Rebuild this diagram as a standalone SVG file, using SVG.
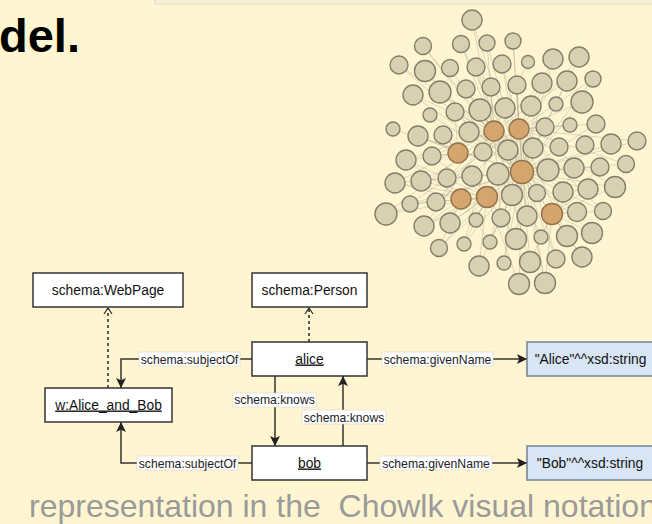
<svg xmlns="http://www.w3.org/2000/svg" width="652" height="524" viewBox="0 0 652 524">
<defs>
<style>
.nd{fill:#d9d0b1;stroke:#847e6c;stroke-width:1.4}
.hub{fill:#d4a56d;stroke:#91724c;stroke-width:1.4}
.net line{stroke:#9d9884;stroke-width:0.6;stroke-opacity:0.55}
.box{fill:#ffffff;stroke:#333333;stroke-width:1.5}
.lit{fill:#d8e5f5;stroke:#6f8096;stroke-width:1.5}
.t{font-family:"Liberation Sans",Arial,sans-serif;font-size:13.8px;fill:#111111;text-anchor:middle}
.u{text-decoration:underline}
.lb{fill:#ffffff;stroke:#d6d6d6;stroke-width:0.6}
.lt{font-family:"Liberation Sans",Arial,sans-serif;font-size:12.2px;fill:#222222;text-anchor:middle}
.c{fill:none;stroke:#333333;stroke-width:1.5}
.d{fill:none;stroke:#333333;stroke-width:1.6;stroke-dasharray:3 3}
</style>
<marker id="fa" viewBox="0 0 10 10" markerUnits="userSpaceOnUse" markerWidth="10" markerHeight="10" refX="10" refY="5" orient="auto">
<path d="M0,0 L10,5 L0,10 L2.2,5 z" fill="#222222"/>
</marker>
<marker id="oa" viewBox="-1 -1 9 10" markerUnits="userSpaceOnUse" markerWidth="9" markerHeight="10" refX="6" refY="4" orient="auto">
<path d="M0,0 L6,4 L0,8" fill="none" stroke="#333333" stroke-width="1.3"/>
</marker>
</defs>
<rect width="652" height="524" fill="#fff5d1"/>
<rect x="155" y="-2" width="500" height="6" fill="#f8f0d6" stroke="#e2dbc3" stroke-width="1"/>
<text x="-1" y="52" font-family="'Liberation Sans',Arial,sans-serif" font-size="47" font-weight="bold" fill="#000000">del.</text>

<g id="network" class="net">
<g id="network-edges">
<line x1="522" y1="172" x2="472" y2="20"/><line x1="522" y1="172" x2="423" y2="46"/><line x1="522" y1="172" x2="461" y2="44"/><line x1="522" y1="172" x2="487" y2="43"/><line x1="522" y1="172" x2="513" y2="41"/><line x1="522" y1="172" x2="399" y2="65"/><line x1="522" y1="172" x2="425" y2="71"/><line x1="522" y1="172" x2="476" y2="67"/><line x1="522" y1="172" x2="502" y2="64"/><line x1="522" y1="172" x2="553" y2="59"/><line x1="522" y1="172" x2="579" y2="57"/><line x1="522" y1="172" x2="413" y2="95"/><line x1="522" y1="172" x2="440" y2="92"/><line x1="522" y1="172" x2="466" y2="89"/><line x1="522" y1="172" x2="517" y2="85"/><line x1="522" y1="172" x2="542" y2="83"/><line x1="522" y1="172" x2="567" y2="81"/><line x1="522" y1="172" x2="593" y2="79"/><line x1="522" y1="172" x2="430" y2="115"/><line x1="522" y1="172" x2="455" y2="112"/><line x1="522" y1="172" x2="582" y2="102"/><line x1="522" y1="172" x2="393" y2="129"/><line x1="522" y1="172" x2="418" y2="136"/><line x1="522" y1="172" x2="596" y2="124"/><line x1="522" y1="172" x2="637" y2="141"/><line x1="522" y1="172" x2="611" y2="144"/><line x1="522" y1="172" x2="626" y2="164"/><line x1="522" y1="172" x2="600" y2="167"/><line x1="522" y1="172" x2="395" y2="183"/><line x1="522" y1="172" x2="421" y2="181"/><line x1="522" y1="172" x2="386" y2="214"/><line x1="522" y1="172" x2="410" y2="204"/><line x1="522" y1="172" x2="615" y2="187"/><line x1="522" y1="172" x2="588" y2="189"/><line x1="522" y1="172" x2="424" y2="226"/><line x1="522" y1="172" x2="450" y2="223"/><line x1="522" y1="172" x2="603" y2="211"/><line x1="522" y1="172" x2="577" y2="212"/><line x1="522" y1="172" x2="439" y2="248"/><line x1="522" y1="172" x2="464" y2="244"/><line x1="522" y1="172" x2="490" y2="242"/><line x1="522" y1="172" x2="516" y2="239"/><line x1="522" y1="172" x2="567" y2="236"/><line x1="522" y1="172" x2="592" y2="233"/><line x1="522" y1="172" x2="479" y2="266"/><line x1="522" y1="172" x2="504" y2="263"/><line x1="522" y1="172" x2="530" y2="262"/><line x1="522" y1="172" x2="556" y2="259"/><line x1="522" y1="172" x2="582" y2="257"/><line x1="522" y1="172" x2="519" y2="284"/><line x1="522" y1="172" x2="545" y2="283"/>
<line x1="494" y1="131" x2="472" y2="20"/><line x1="494" y1="131" x2="423" y2="46"/><line x1="494" y1="131" x2="461" y2="44"/><line x1="494" y1="131" x2="487" y2="43"/><line x1="494" y1="131" x2="450" y2="68"/><line x1="494" y1="131" x2="476" y2="67"/><line x1="494" y1="131" x2="528" y2="62"/><line x1="494" y1="131" x2="466" y2="89"/><line x1="494" y1="131" x2="491" y2="87"/><line x1="494" y1="131" x2="399" y2="65"/><line x1="494" y1="131" x2="413" y2="95"/><line x1="494" y1="131" x2="440" y2="92"/><line x1="494" y1="131" x2="542" y2="83"/><line x1="494" y1="131" x2="567" y2="81"/><line x1="494" y1="131" x2="406" y2="160"/><line x1="494" y1="131" x2="432" y2="156"/><line x1="494" y1="131" x2="395" y2="183"/><line x1="494" y1="131" x2="447" y2="178"/><line x1="494" y1="131" x2="386" y2="214"/><line x1="494" y1="131" x2="436" y2="202"/><line x1="494" y1="131" x2="563" y2="192"/><line x1="494" y1="131" x2="424" y2="226"/><line x1="494" y1="131" x2="501" y2="218"/><line x1="494" y1="131" x2="541" y2="237"/><line x1="494" y1="131" x2="464" y2="244"/><line x1="494" y1="131" x2="530" y2="262"/>
<line x1="519" y1="129" x2="513" y2="41"/><line x1="519" y1="129" x2="502" y2="64"/><line x1="519" y1="129" x2="553" y2="59"/><line x1="519" y1="129" x2="579" y2="57"/><line x1="519" y1="129" x2="517" y2="85"/><line x1="519" y1="129" x2="593" y2="79"/><line x1="519" y1="129" x2="582" y2="102"/><line x1="519" y1="129" x2="570" y2="125"/><line x1="519" y1="129" x2="596" y2="124"/><line x1="519" y1="129" x2="637" y2="141"/><line x1="519" y1="129" x2="626" y2="164"/><line x1="519" y1="129" x2="615" y2="187"/><line x1="519" y1="129" x2="472" y2="176"/><line x1="519" y1="129" x2="421" y2="181"/><line x1="519" y1="129" x2="410" y2="204"/><line x1="519" y1="129" x2="588" y2="189"/><line x1="519" y1="129" x2="476" y2="220"/><line x1="519" y1="129" x2="527" y2="216"/><line x1="519" y1="129" x2="603" y2="211"/><line x1="519" y1="129" x2="490" y2="242"/><line x1="519" y1="129" x2="567" y2="236"/><line x1="519" y1="129" x2="504" y2="263"/><line x1="519" y1="129" x2="556" y2="259"/><line x1="519" y1="129" x2="545" y2="283"/>
<line x1="487" y1="197" x2="406" y2="160"/><line x1="487" y1="197" x2="432" y2="156"/><line x1="487" y1="197" x2="421" y2="181"/><line x1="487" y1="197" x2="395" y2="183"/><line x1="487" y1="197" x2="386" y2="214"/><line x1="487" y1="197" x2="410" y2="204"/><line x1="487" y1="197" x2="424" y2="226"/><line x1="487" y1="197" x2="450" y2="223"/><line x1="487" y1="197" x2="439" y2="248"/><line x1="487" y1="197" x2="464" y2="244"/><line x1="487" y1="197" x2="479" y2="266"/><line x1="487" y1="197" x2="519" y2="284"/><line x1="487" y1="197" x2="516" y2="239"/>
<line x1="461" y1="199" x2="406" y2="160"/><line x1="461" y1="199" x2="395" y2="183"/><line x1="461" y1="199" x2="436" y2="202"/><line x1="461" y1="199" x2="424" y2="226"/><line x1="461" y1="199" x2="439" y2="248"/><line x1="461" y1="199" x2="490" y2="242"/>
<line x1="552" y1="214" x2="574" y2="168"/><line x1="552" y1="214" x2="600" y2="167"/><line x1="552" y1="214" x2="588" y2="189"/><line x1="552" y1="214" x2="615" y2="187"/><line x1="552" y1="214" x2="603" y2="211"/><line x1="552" y1="214" x2="577" y2="212"/><line x1="552" y1="214" x2="592" y2="233"/><line x1="552" y1="214" x2="582" y2="257"/><line x1="552" y1="214" x2="530" y2="262"/><line x1="552" y1="214" x2="545" y2="283"/>
<line x1="458" y1="153" x2="430" y2="115"/><line x1="458" y1="153" x2="455" y2="112"/><line x1="458" y1="153" x2="418" y2="136"/><line x1="458" y1="153" x2="443" y2="135"/><line x1="458" y1="153" x2="432" y2="156"/><line x1="458" y1="153" x2="406" y2="160"/>
</g>
<g id="network-nodes">
<circle class="nd" cx="472" cy="20" r="10"/>
<circle class="nd" cx="423" cy="46" r="8.5"/><circle class="nd" cx="461" cy="44" r="8.5"/><circle class="nd" cx="487" cy="43" r="8"/><circle class="nd" cx="513" cy="41" r="8"/>
<circle class="nd" cx="399" cy="65" r="9"/><circle class="nd" cx="425" cy="71" r="10.5"/><circle class="nd" cx="450" cy="68" r="8.5"/><circle class="nd" cx="476" cy="67" r="9"/><circle class="nd" cx="502" cy="64" r="9"/><circle class="nd" cx="528" cy="62" r="6.5"/><circle class="nd" cx="553" cy="59" r="10"/><circle class="nd" cx="579" cy="57" r="10"/>
<circle class="nd" cx="413" cy="95" r="10"/><circle class="nd" cx="440" cy="92" r="11"/><circle class="nd" cx="466" cy="89" r="9"/><circle class="nd" cx="491" cy="87" r="9"/><circle class="nd" cx="517" cy="85" r="9"/><circle class="nd" cx="542" cy="83" r="10"/><circle class="nd" cx="567" cy="81" r="10"/><circle class="nd" cx="593" cy="79" r="8"/>
<circle class="nd" cx="430" cy="115" r="7"/><circle class="nd" cx="455" cy="112" r="9"/><circle class="nd" cx="480" cy="110" r="11"/><circle class="nd" cx="505" cy="108" r="10"/><circle class="nd" cx="531" cy="106" r="10"/><circle class="nd" cx="556" cy="104" r="7"/><circle class="nd" cx="582" cy="102" r="11"/>
<circle class="nd" cx="393" cy="129" r="7"/><circle class="nd" cx="418" cy="136" r="10"/><circle class="nd" cx="443" cy="135" r="9"/><circle class="nd" cx="469" cy="132" r="10"/><circle class="hub" cx="494" cy="131" r="10"/><circle class="hub" cx="519" cy="129" r="10"/><circle class="nd" cx="545" cy="127" r="9"/><circle class="nd" cx="570" cy="125" r="7"/><circle class="nd" cx="596" cy="124" r="9"/>
<circle class="nd" cx="406" cy="160" r="10"/><circle class="nd" cx="432" cy="156" r="9"/><circle class="hub" cx="458" cy="153" r="10"/><circle class="nd" cx="483" cy="152" r="9"/><circle class="nd" cx="508" cy="150" r="10"/><circle class="nd" cx="533" cy="148" r="10"/><circle class="nd" cx="559" cy="147" r="9"/><circle class="nd" cx="585" cy="145" r="9"/><circle class="nd" cx="611" cy="144" r="10"/><circle class="nd" cx="637" cy="141" r="9"/>
<circle class="nd" cx="395" cy="183" r="10"/><circle class="nd" cx="421" cy="181" r="10"/><circle class="nd" cx="447" cy="178" r="9"/><circle class="nd" cx="472" cy="176" r="10"/><circle class="nd" cx="498" cy="174" r="11"/><circle class="hub" cx="522" cy="172" r="11.5"/><circle class="nd" cx="548" cy="170" r="11"/><circle class="nd" cx="574" cy="168" r="10"/><circle class="nd" cx="600" cy="167" r="9"/><circle class="nd" cx="626" cy="164" r="8.5"/>
<circle class="nd" cx="386" cy="214" r="11"/><circle class="nd" cx="410" cy="204" r="8"/><circle class="nd" cx="436" cy="202" r="9"/><circle class="hub" cx="461" cy="199" r="10"/><circle class="hub" cx="487" cy="197" r="10.5"/><circle class="nd" cx="512" cy="195" r="10.5"/><circle class="nd" cx="537" cy="193" r="8.5"/><circle class="nd" cx="563" cy="192" r="10"/><circle class="nd" cx="588" cy="189" r="10"/><circle class="nd" cx="615" cy="187" r="10.5"/>
<circle class="nd" cx="424" cy="226" r="10"/><circle class="nd" cx="450" cy="223" r="10"/><circle class="nd" cx="476" cy="220" r="7"/><circle class="nd" cx="501" cy="218" r="9"/><circle class="nd" cx="527" cy="216" r="10"/><circle class="hub" cx="552" cy="214" r="10.5"/><circle class="nd" cx="577" cy="212" r="9.5"/><circle class="nd" cx="603" cy="211" r="8.5"/>
<circle class="nd" cx="439" cy="248" r="8.5"/><circle class="nd" cx="464" cy="244" r="7"/><circle class="nd" cx="490" cy="242" r="7"/><circle class="nd" cx="516" cy="239" r="10.5"/><circle class="nd" cx="541" cy="237" r="7"/><circle class="nd" cx="567" cy="236" r="10.5"/><circle class="nd" cx="592" cy="233" r="10.5"/>
<circle class="nd" cx="479" cy="266" r="10"/><circle class="nd" cx="504" cy="263" r="7"/><circle class="nd" cx="530" cy="262" r="10.5"/><circle class="nd" cx="556" cy="259" r="9"/><circle class="nd" cx="582" cy="257" r="10"/>
<circle class="nd" cx="519" cy="284" r="10.5"/><circle class="nd" cx="545" cy="283" r="10.5"/>
</g>
</g>

<g id="connectors">
<path class="d" d="M108,388 V308" marker-end="url(#oa)"/>
<path class="d" d="M309,342 V308" marker-end="url(#oa)"/>
<path class="c" d="M252,359 H121 V388" marker-end="url(#fa)"/>
<path class="c" d="M252,463 H121 V422" marker-end="url(#fa)"/>
<path class="c" d="M275,376 V446" marker-end="url(#fa)"/>
<path class="c" d="M343,446 V376" marker-end="url(#fa)"/>
<path class="c" d="M367,359 H527" marker-end="url(#fa)"/>
<path class="c" d="M367,463 H527" marker-end="url(#fa)"/>
<g id="labels">
<rect class="lb" x="139" y="352" width="101" height="14"/><text class="lt" x="189.5" y="363.5">schema:subjectOf</text>
<rect class="lb" x="137" y="456" width="101" height="14"/><text class="lt" x="187.5" y="467.5">schema:subjectOf</text>
<rect class="lb" x="233" y="393" width="83" height="14"/><text class="lt" x="274.5" y="404">schema:knows</text>
<rect class="lb" x="302" y="410" width="84" height="14"/><text class="lt" x="344" y="421.5">schema:knows</text>
<rect class="lb" x="382" y="352" width="111" height="14"/><text class="lt" x="437.5" y="363.5">schema:givenName</text>
<rect class="lb" x="380" y="456" width="112" height="14"/><text class="lt" x="436" y="467.5">schema:givenName</text>
</g>
</g>

<g id="node-webpage"><rect class="box" x="33" y="273" width="150" height="34"/><text class="t" x="108" y="294.5">schema:WebPage</text></g>
<g id="node-person"><rect class="box" x="252" y="273" width="115" height="34"/><text class="t" x="309.5" y="294.5">schema:Person</text></g>
<g id="node-alice"><rect class="box" x="252" y="342" width="115" height="34"/><text class="t u" x="309.5" y="363.5">alice</text></g>
<g id="node-alice-and-bob"><rect class="box" x="45" y="388" width="127" height="34"/><text class="t u" x="108.5" y="409.5">w:Alice_and_Bob</text></g>
<g id="node-bob"><rect class="box" x="252" y="446" width="115" height="34"/><text class="t u" x="309.5" y="467.5">bob</text></g>
<g id="node-alice-literal"><rect class="lit" x="527" y="342" width="132" height="34"/><text class="t" x="590.5" y="363.5">"Alice"^^xsd:string</text></g>
<g id="node-bob-literal"><rect class="lit" x="527" y="446" width="132" height="34"/><text class="t" x="590" y="467.5">"Bob"^^xsd:string</text></g>

<text x="29" y="517" font-family="'Liberation Sans',Arial,sans-serif" font-size="32" fill="#9a9a9a" xml:space="preserve">representation in the  Chowlk visual notation</text>
</svg>
